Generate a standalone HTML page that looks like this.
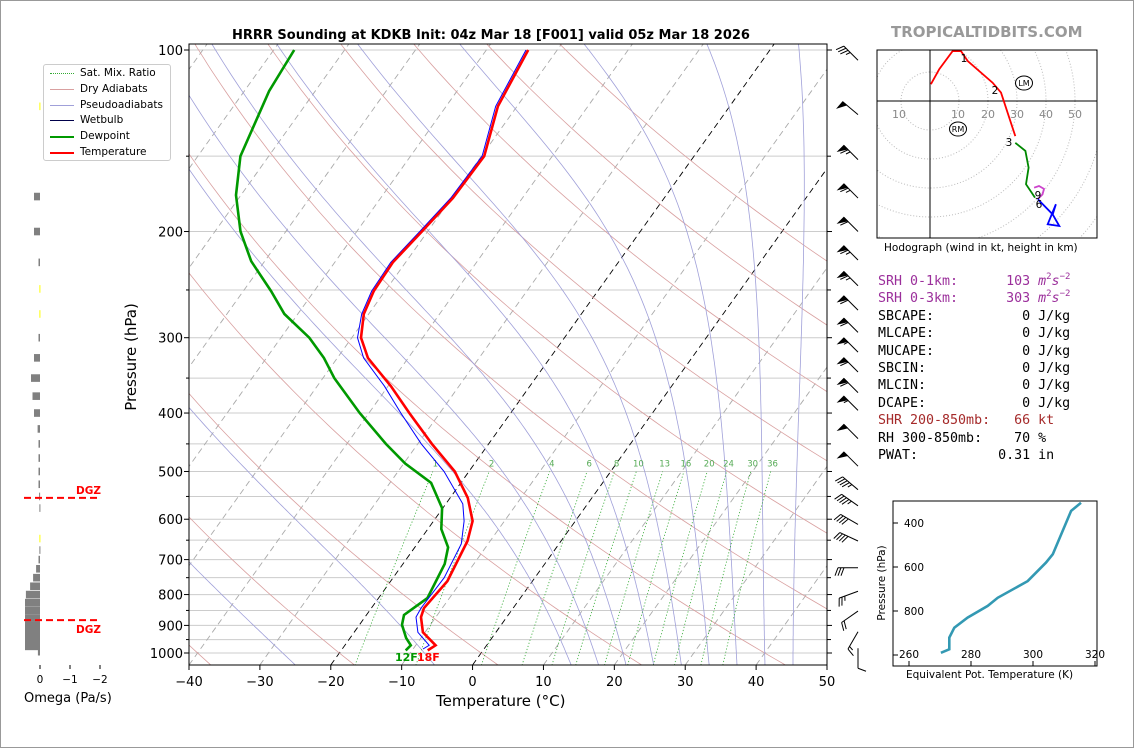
<!DOCTYPE html>
<html><head><meta charset="utf-8">
<style>
body{margin:0;background:#fff;}
#wrap{position:relative;width:1132px;height:746px;border:1px solid #999;overflow:hidden;font-family:"DejaVu Sans","Liberation Sans",sans-serif;}
.t{position:absolute;white-space:nowrap;}
#info{position:absolute;left:877px;top:272px;font-family:"DejaVu Sans Mono","Liberation Mono",monospace;font-size:13.3px;line-height:17.4px;white-space:pre;color:#000;}
#info .sp{position:relative;top:-6px;font-size:9px;line-height:0;}
#legend{position:absolute;left:42px;top:63px;width:126px;height:95px;border:1px solid #ccc;border-radius:3px;background:#fff;font-size:10.5px;}
.le{position:absolute;left:36px;}
.ll{position:absolute;left:6px;width:24px;height:0;}
</style></head><body>
<div id="wrap">
<svg id="s" width="1132" height="746" style="position:absolute;left:0;top:0"></svg>
<div class="t" style="left:231px;top:27px;font-size:13px;font-weight:bold">HRRR Sounding at KDKB Init: 04z Mar 18 [F001] valid 05z Mar 18 2026</div>
<div class="t" style="left:890px;top:22px;font-size:15px;font-weight:bold;color:#999">TROPICALTIDBITS.COM</div>
<div class="t" style="top:356px;font-size:15px;transform:translate(-50%,-50%) rotate(-90deg);transform-origin:center;left:130px">Pressure (hPa)</div>
<div class="t" style="left:435px;top:691px;font-size:15px">Temperature (°C)</div>
<div class="t" style="left:23px;top:690px;font-size:13px">Omega (Pa/s)</div>
<div class="t" style="left:883px;top:241px;font-size:10.5px">Hodograph (wind in kt, height in km)</div>
<div class="t" style="left:905px;top:668px;font-size:10.5px">Equivalent Pot. Temperature (K)</div>
<div class="t" style="left:881px;top:582px;font-size:10.5px;transform:translate(-50%,-50%) rotate(-90deg)">Pressure (hPa)</div>
<div id="legend">
 <div class="ll" style="top:8px;border-top:1px dotted #3a3"></div><div class="le" style="top:2px">Sat. Mix. Ratio</div>
 <div class="ll" style="top:24px;border-top:1px solid #d9a0a0"></div><div class="le" style="top:18px">Dry Adiabats</div>
 <div class="ll" style="top:40px;border-top:1px solid #a0a0d9"></div><div class="le" style="top:34px">Pseudoadiabats</div>
 <div class="ll" style="top:55px;border-top:1px solid #00004a"></div><div class="le" style="top:49px">Wetbulb</div>
 <div class="ll" style="top:71px;border-top:2.5px solid #090"></div><div class="le" style="top:65px">Dewpoint</div>
 <div class="ll" style="top:87px;border-top:2.5px solid #f00"></div><div class="le" style="top:81px">Temperature</div>
</div>
<div id="info"><span style="color:#9b2f9b">SRH 0-1km:      103 <i>m</i><span class="sp">2</span><i>s</i><span class="sp">−2</span></span>
<span style="color:#9b2f9b">SRH 0-3km:      303 <i>m</i><span class="sp">2</span><i>s</i><span class="sp">−2</span></span>
SBCAPE:           0 J/kg
MLCAPE:           0 J/kg
MUCAPE:           0 J/kg
SBCIN:            0 J/kg
MLCIN:            0 J/kg
DCAPE:            0 J/kg
<span style="color:#a52a2a">SHR 200-850mb:   66 kt</span>
RH 300-850mb:    70 %
PWAT:          0.31 in</div>
</div>
<script>
// ---- data ----
const tempP=[100,124,150,176,200,225,251,274,300,324,361,400,450,500,553,604,652,760,842,872,924,971,990];
const tempC=[-54.1,-52.7,-49.6,-49.8,-50.8,-51.8,-51.6,-50.7,-48.7,-45.7,-39.6,-34.3,-28,-22,-17.5,-14.5,-13.2,-12,-12.6,-12.1,-10.3,-7.2,-7.8];
const dewP=[100,117,150,174,200,224,251,274,300,324,350,400,450,485,522,575,623,668,712,760,811,865,898,944,971,990];
const dewC=[-87.1,-86.5,-84,-80.7,-76.4,-71.9,-66.1,-61.9,-56,-51.9,-48.4,-41.3,-34.5,-29.8,-24.2,-20.1,-18.1,-15.3,-14.1,-13.6,-13.1,-14.7,-14,-12.1,-10.7,-10.9];
const wbP=[100,124,150,176,200,225,251,274,300,324,361,400,450,500,566,604,659,750,842,872,924,971,985];
const wbC=[-54.4,-53,-49.9,-50.1,-51.1,-52.1,-51.9,-51,-49.2,-46.3,-40.5,-35.5,-29.5,-23.5,-17.6,-15.7,-13.8,-12.8,-13,-12.8,-11,-8.1,-8.6];
const mixRatios=[1,2,4,6,8,10,13,16,20,24,30,36];
const isoLines=[-120,-110,-100,-90,-80,-70,-60,-50,-40,-30,-10,10,20,30,40,50];
const dryLines=[-100,-80,-60,-40,-20,0,20,40,60,80,100,120,140,160];
const moistLines=[-28,-8,12,16,20,24,28,32,36,40,44];
const pTicks=[100,200,300,400,500,600,700,800,900,1000];
const pMinor=[150,250,350,450,550,650,750,850,950];
const tTicks=[-40,-30,-20,-10,0,10,20,30,40,50];
const barbP=[104,128,152,176,200,223,246,270,294,317,342,370,396,441,490,536,570,612,652,722,790,852,922,982];
const barbDir=[315,310,315,315,315,315,315,315,315,315,315,315,315,315,315,310,305,300,295,270,250,235,210,180];
const barbSpd=[35,50,65,65,60,65,65,60,60,55,60,60,55,50,50,45,45,40,40,30,25,20,15,10];
const omegaP=[124,175,200,225,249,274,300,324,350,375,400,425,450,475,500,525,550,575,646,675,700,725,750,775,800,825,850,875,900,925,950,975,995];
const omegaV=[0.02,0.2,0.2,0.05,0.02,0.02,0.05,0.2,0.3,0.25,0.2,0.08,0.05,0.05,0.05,0.05,0.03,0.02,0.02,0.02,0.05,0.13,0.23,0.33,0.47,0.5,0.5,0.5,0.5,0.5,0.5,0.5,0.07];
const omegaYellow=[1,0,0,0,1,1,0,0,0,0,0,0,0,0,0,0,0,0,1,0,0,0,0,0,0,0,0,0,0,0,0,0,0];
const hodoU=[0.3,3.2,7.8,10.7,13,21.6,24.5,29.4];
const hodoV=[5.8,11,17.2,17.2,13.8,6.3,2.9,-12.1];
const hodoGU=[29.4,32.9,34,33.1,36.2];
const hodoGV=[-14.4,-17.2,-23,-28.7,-33.3];
const hodoMU=[35.9,37.6,39.3,38.8,37.2];
const hodoMV=[-29.9,-29.3,-30.3,-32.2,-33.8];
const hodoBU=[37.2,42.3,43.4,40.6,44.6,42.3];
const hodoBV=[-33.9,-39.1,-35.6,-42.5,-43.1,-39.1];
const thetaE=[270.3,273,273,274.6,278.9,285.4,288.6,298.3,304.2,306.4,312.3,315.5];
const thetaP=[990,974,921,876,830,777,740,664,580,542,345,308];

// ---- axes ----
const NS='http://www.w3.org/2000/svg';
const svg=document.getElementById('s');
const X0=188,X1=826,YT=43,YB=664;
function yP(p){return 49+(Math.log10(p)-2)*603;}
function xT(T,y){return X0+(T+40)*7.0889+(YB-y)*0.714;}
function el(tag,a,parent){const e=document.createElementNS(NS,tag);for(const k in a)e.setAttribute(k,a[k]);(parent||svg).appendChild(e);return e;}
const defs=el('defs',{});
const cp=el('clipPath',{id:'cp'},defs);el('rect',{x:X0,y:YT,width:X1-X0,height:YB-YT},cp);
const cp2=el('clipPath',{id:'cp2'},defs);el('rect',{x:876,y:49,width:220,height:188},cp2);
const g=el('g',{'clip-path':'url(#cp)'});


const pLevels=[];for(let lp=Math.log10(1060);lp>=Math.log10(95);lp-=0.01)pLevels.push(Math.pow(10,lp));
function lineFrom(ps,ts){return ps.map((p,i)=>{const y=yP(p);return xT(ts[i],y).toFixed(1)+','+y.toFixed(1);}).join(' ');}
for(const p of pTicks.concat(pMinor)){const y=yP(p);const l=el('line',{x1:X0,x2:X1,y1:y,y2:y,stroke:'#ccc','stroke-width':1},g);

}
for(const T of isoLines){const l=el('line',{x1:xT(T,YB),y1:YB,x2:xT(T,YT),y2:YT,stroke:'#aaa','stroke-dasharray':'6,4','stroke-width':0.9},g);

}
for(const T of [-20,0]){const l=el('line',{x1:xT(T,YB),y1:YB,x2:xT(T,YT),y2:YT,stroke:'#000','stroke-dasharray':'6,4','stroke-width':0.9},g);

}
for(const T0 of dryLines){const th=T0+273.15;const pts=pLevels.map(p=>{const y=yP(p);return xT(th*Math.pow(p/1000,0.2857)-273.15,y).toFixed(1)+','+y.toFixed(1);}).join(' ');
const l=el('polyline',{points:pts,fill:'none',stroke:'#d9a0a0','stroke-width':0.8},g);

}
function es(T){return 6.112*Math.exp(17.67*T/(T+243.5));}
function dTdp(T,p){const Tk=T+273.15,e=es(T),rs=0.622*e/(p-e);const Rd=287,Lv=2.5e6,Cp=1005;
return (Rd*Tk+Lv*rs)/(p*(Cp+Lv*Lv*rs*0.622/(Rd*Tk*Tk)));}
for(const T0 of moistLines){const ptsU=[],ptsD=[];let T=T0;for(let p=1000;p>=95;p-=5){const y=yP(p);ptsU.push(xT(T,y).toFixed(1)+','+y.toFixed(1));T-=dTdp(T,p)*5;}
T=T0;for(let p=1000;p<=1060;p+=5){const y=yP(p);ptsD.unshift(xT(T,y).toFixed(1)+','+y.toFixed(1));T+=dTdp(T,p)*5;}
const l=el('polyline',{points:ptsD.concat(ptsU).join(' '),fill:'none',stroke:'#a0a0d9','stroke-width':0.8},g);

}
for(const w of mixRatios){const pts=[];for(let p=1060;p>=500;p-=10){const e=w*p/(622+w),L=Math.log(e/6.112),Td=243.5*L/(17.67-L);const y=yP(p);pts.push(xT(Td,y).toFixed(1)+','+y.toFixed(1));}
const l=el('polyline',{points:pts.join(' '),fill:'none',stroke:'#3a3','stroke-width':0.8,'stroke-dasharray':'1.2,2'},g);


const p=492,e=w*p/(622+w),L=Math.log(e/6.112),Td=243.5*L/(17.67-L),y=yP(p)-1;
const t=el('text',{x:xT(Td,y),y:y,'font-size':8.5,fill:'#5a5','text-anchor':'middle'},g);t.textContent=w;

}
const dl=el('polyline',{points:lineFrom(dewP,dewC),fill:'none',stroke:'#090','stroke-width':2.6},g);


const wl=el('polyline',{points:lineFrom(wbP,wbC),fill:'none',stroke:'#00f','stroke-width':1},g);


const tl=el('polyline',{points:lineFrom(tempP,tempC),fill:'none',stroke:'#f00','stroke-width':2.6},g);


let st=el('text',{x:394,y:660,'font-size':11,'font-weight':'bold',fill:'#090'});st.textContent='12F';


st=el('text',{x:416,y:660,'font-size':11,'font-weight':'bold',fill:'#f00'});st.textContent='18F';


const fr=el('rect',{x:X0,y:YT,width:X1-X0,height:YB-YT,fill:'none',stroke:'#000','stroke-width':1});


for(const p of pTicks){const y=yP(p);el('line',{x1:X0-5,x2:X0,y1:y,y2:y,stroke:'#000'});el('line',{x1:X1,x2:X1+5,y1:y,y2:y,stroke:'#000'});
const t=el('text',{x:X0-6,y:y+5,'font-size':13,'text-anchor':'end'});t.textContent=p;

}
for(const p of pMinor){const y=yP(p);el('line',{x1:X0-3,x2:X0,y1:y,y2:y,stroke:'#000'});el('line',{x1:X1,x2:X1+4,y1:y,y2:y,stroke:'#000'});}
for(const T of tTicks){const x=X0+(T+40)*7.0889;el('line',{x1:x,x2:x,y1:YB,y2:YB+5,stroke:'#000'});
const t=el('text',{x:x,y:YB+21,'font-size':13,'text-anchor':'middle'});t.textContent=T<0?'\u2212'+(-T):T;

}
barbP.forEach((p,i)=>{const y0=yP(p);const d=barbDir[i]*Math.PI/180;const sx=Math.sin(d),sy=-Math.cos(d);const L=20;const x0=857;
const bg=el('g',{stroke:'#000','stroke-width':1,fill:'#000'});


el('line',{x1:x0,y1:y0,x2:x0+sx*L,y2:y0+sy*L},bg);
const nx=sy,ny=-sx;let s=barbSpd[i],pos=L;
while(s>=50){const ax=x0+sx*pos,ay=y0+sy*pos,bx=x0+sx*(pos-5),by=y0+sy*(pos-5);el('polygon',{points:`${ax},${ay} ${bx},${by} ${ax+nx*8},${ay+ny*8}`},bg);pos-=6;s-=50;}
while(s>=10){const ax=x0+sx*pos,ay=y0+sy*pos;el('line',{x1:ax,y1:ay,x2:ax+nx*8+sx*3,y2:ay+ny*8+sy*3},bg);pos-=3;s-=10;}
if(s>=5){const ax=x0+sx*pos,ay=y0+sy*pos;el('line',{x1:ax,y1:ay,x2:ax+nx*4.5+sx*1.5,y2:ay+ny*4.5+sy*1.5},bg);}
});
const OX=39;
omegaP.forEach((p,i)=>{const y=yP(p);const w=omegaV[i]*30;const r=el('rect',{x:OX-w,y:y-3.8,width:Math.max(w,1),height:7.6,fill:omegaYellow[i]?'#ff0':'#808080'});

});
[[0,'0'],[-1,'\u22121'],[-2,'\u22122']].forEach(a=>{const x=OX-a[0]*30;el('line',{x1:x,x2:x,y1:664,y2:668,stroke:'#000'});const t=el('text',{x:x,y:682,'font-size':10.5,'text-anchor':'middle'});t.textContent=a[1];

});
[[yP(553),489],[yP(882),628]].forEach(a=>{const l=el('line',{x1:23,x2:99,y1:a[0],y2:a[0],stroke:'#f00','stroke-width':2,'stroke-dasharray':'7,4'});


const t=el('text',{x:100,y:a[1]+4,'font-size':10.5,'font-weight':'bold',fill:'#f00','text-anchor':'end'});t.textContent='DGZ';

});
const HX=929,HY=100,HS=2.9;
const hg=el('g',{'clip-path':'url(#cp2)'});


for(let r=10;r<=80;r+=10){el('circle',{cx:HX,cy:HY,r:r*HS,fill:'none',stroke:'#bbb','stroke-dasharray':'1,2'},hg);}
el('line',{x1:876,x2:1096,y1:HY,y2:HY,stroke:'#000'},hg);el('line',{x1:HX,x2:HX,y1:49,y2:237,stroke:'#000'},hg);
function hpts(u,v){return u.map((a,i)=>(HX+a*HS).toFixed(1)+','+(HY-v[i]*HS).toFixed(1)).join(' ');}
[[hodoU,hodoV,'#f00','hodo-0-3km'],[hodoGU,hodoGV,'#080','hodo-3-6km'],[hodoMU,hodoMV,'#c4c','hodo-6-9km'],[hodoBU,hodoBV,'#00f','hodo-9km-plus']].forEach(a=>{const l=el('polyline',{points:hpts(a[0],a[1]),fill:'none',stroke:a[2],'stroke-width':1.8},hg);

});
el('rect',{x:876,y:49,width:220,height:188,fill:'none',stroke:'#000'});
[[898,113,'10'],[957,113,'10'],[987,113,'20'],[1016,113,'30'],[1045,113,'40'],[1074,113,'50'],[963,57,'1'],[994,89,'2'],[1008,141,'3'],[1038,203,'6'],[1037,194,'9']].forEach(a=>{const t=el('text',{x:a[0],y:a[1]+4,'font-size':a[2].length>1?11:10.5,'text-anchor':'middle',fill:a[2].length>1?'#888':'#000'});t.textContent=a[2];

});
[[1023,82,'LM'],[957,128,'RM']].forEach(a=>{el('ellipse',{cx:a[0],cy:a[1],rx:8.5,ry:7,fill:'#fff',stroke:'#000'});const t=el('text',{x:a[0],y:a[1]+3,'font-size':8,'text-anchor':'middle'});t.textContent=a[2];

});
function ix(th){return 908+(th-260)*3.1;}function iy(p){return 522+(p-400)*0.22;}
const ie=el('polyline',{points:thetaE.map((t,i)=>ix(t).toFixed(1)+','+iy(thetaP[i]).toFixed(1)).join(' '),fill:'none',stroke:'#3399b3','stroke-width':2.6});


el('rect',{x:892,y:500,width:204,height:165,fill:'none',stroke:'#000'});
[400,600,800].forEach(p=>{el('line',{x1:892,x2:897,y1:iy(p),y2:iy(p),stroke:'#000'});const t=el('text',{x:923,y:iy(p)+4,'font-size':10.5,'text-anchor':'end'});t.textContent=p;

});
el('line',{x1:892,x2:897,y1:iy(1000),y2:iy(1000),stroke:'#000'});
[260,280,300,320].forEach(v=>{el('line',{x1:ix(v),x2:ix(v),y1:660,y2:665,stroke:'#000'});const t=el('text',{x:ix(v),y:657,'font-size':10.5,'text-anchor':'middle'});t.textContent=v;

});
</script>
</body></html>
